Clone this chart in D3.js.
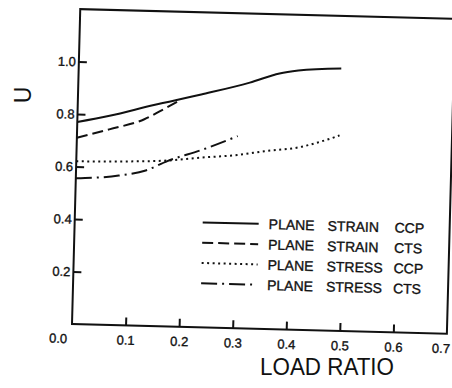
<!DOCTYPE html>
<html>
<head>
<meta charset="utf-8">
<script src="https://cdn.jsdelivr.net/npm/d3@7/dist/d3.min.js"></script>
<style>
  body { margin: 0; background: #fff; }
  svg { display: block; font-family: 'Liberation Sans', Arial, sans-serif; }
</style>
</head>
<body>
<div id="chart"></div>
<script>
// data
const xTickValues = [0.1, 0.2, 0.3, 0.4, 0.5, 0.6];
const xTickLabels = [0.0, 0.1, 0.2, 0.3, 0.4, 0.5, 0.6, 0.7];
const yTickValues = [0.2, 0.4, 0.6, 0.8, 1.0];

const seriesNames = ['PLANE STRAIN CCP', 'PLANE STRAIN CTS', 'PLANE STRESS CCP', 'PLANE STRESS CTS'];

const strainCcpLoad = [0.0, 0.06, 0.14, 0.23, 0.32, 0.375, 0.41, 0.49];
const strainCcpU    = [0.77, 0.797, 0.841, 0.887, 0.937, 0.975, 0.988, 1.0];

const strainCtsLoad = [0.0, 0.06, 0.125, 0.163, 0.19];
const strainCtsU    = [0.71, 0.745, 0.787, 0.83, 0.862];

const stressCcpLoad = [0.0, 0.1, 0.17, 0.23, 0.3, 0.35, 0.42, 0.45, 0.48, 0.49];
const stressCcpU    = [0.62, 0.625, 0.632, 0.646, 0.66, 0.677, 0.698, 0.716, 0.737, 0.745];

const stressCtsLoad = [0.0, 0.08, 0.13, 0.17, 0.235, 0.3];
const stressCtsU    = [0.555, 0.57, 0.592, 0.63, 0.677, 0.732];

const width = 452;
const height = 388;
const plotW = 375;
const plotH = 315;
const ink = '#111';

const svg = d3.select('#chart').append('svg')
  .attr('width', width)
  .attr('height', height);

svg.append('rect')
  .attr('width', width)
  .attr('height', height)
  .attr('fill', '#fff');

// the scan is tilted about 1.5 degrees clockwise around the bottom-left corner
const g = svg.append('g')
  .attr('transform', `translate(72,324) rotate(1.5) translate(0,${-plotH})`);

const x = d3.scaleLinear().domain([0, 0.7]).range([0, plotW]);
const y = d3.scaleLinear().domain([0, 1.2]).range([plotH, 0]);

// frame
g.append('rect')
  .attr('x', 0)
  .attr('y', 0)
  .attr('width', plotW)
  .attr('height', plotH)
  .attr('fill', 'none')
  .attr('stroke', ink)
  .attr('stroke-width', 2);

// x axis, ticks point inward
const xAxis = g.append('g')
  .attr('transform', `translate(0,${plotH})`)
  .call(d3.axisBottom(x)
    .tickValues(xTickLabels)
    .tickSizeInner(-8)
    .tickSizeOuter(0)
    .tickPadding(10)
    .tickFormat(d3.format('.1f')))
  .call((gr) => gr.select('.domain').remove());
xAxis.selectAll('.tick line')
  .attr('stroke', ink)
  .attr('stroke-width', 2)
  .filter((d) => !xTickValues.includes(d))
  .remove();
xAxis.selectAll('.tick text')
  .attr('fill', ink)
  .attr('stroke', ink)
  .attr('stroke-width', 0.35)
  .attr('font-size', 13)
  .attr('font-family', "'Liberation Sans', Arial, sans-serif")
  .attr('dx', (d) => d === 0 ? -14 : (d === 0.7 ? -6 : 0));

// y axis
const yAxis = g.append('g')
  .call(d3.axisLeft(y)
    .tickValues(yTickValues)
    .tickSizeInner(-8)
    .tickSizeOuter(0)
    .tickPadding(3)
    .tickFormat(d3.format('.1f')))
  .call((gr) => gr.select('.domain').remove());
yAxis.selectAll('.tick line')
  .attr('stroke', ink)
  .attr('stroke-width', 2);
yAxis.selectAll('.tick text')
  .attr('fill', ink)
  .attr('stroke', ink)
  .attr('stroke-width', 0.35)
  .attr('font-size', 13)
  .attr('font-family', "'Liberation Sans', Arial, sans-serif");

// curves
const dashes = ['none', '11,5', '2,3.5', '16,5,2,5'];
const series = [
  [strainCcpLoad, strainCcpU],
  [strainCtsLoad, strainCtsU],
  [stressCcpLoad, stressCcpU],
  [stressCtsLoad, stressCtsU],
];
const line = d3.line()
  .x((d) => x(d[0]))
  .y((d) => y(d[1]))
  .curve(d3.curveMonotoneX);

series.forEach(([loads, us], i) => {
  g.append('path')
    .datum(loads.map((l, k) => [l, us[k]]))
    .attr('d', line)
    .attr('fill', 'none')
    .attr('stroke', ink)
    .attr('stroke-width', 2)
    .attr('stroke-dasharray', dashes[i]);
});

// legend
const legend = g.append('g').attr('class', 'legend');
const wordX = [194, 253, 320];
seriesNames.forEach((name, i) => {
  const rowY = 210 + i * 20.3;
  legend.append('line')
    .attr('x1', 128)
    .attr('x2', 184)
    .attr('y1', rowY)
    .attr('y2', rowY)
    .attr('stroke', ink)
    .attr('stroke-width', 2)
    .attr('stroke-dasharray', dashes[i]);
  const words = name.split(' ');
  const t = legend.append('text')
    .attr('y', rowY + 5)
    .attr('font-size', 14)
    .attr('fill', ink)
    .attr('stroke', ink)
    .attr('stroke-width', 0.35);
  words.forEach((w, k) => {
    t.append('tspan').attr('x', wordX[k]).text(w);
  });
});

// axis titles
svg.append('text')
  .attr('x', 327)
  .attr('y', 375)
  .attr('text-anchor', 'middle')
  .attr('font-size', 24)
  .attr('textLength', 134)
  .attr('lengthAdjust', 'spacingAndGlyphs')
  .attr('fill', ink)
  .text('LOAD RATIO');

svg.append('text')
  .attr('transform', 'translate(23,95) rotate(-90)')
  .attr('text-anchor', 'middle')
  .attr('dy', '0.35em')
  .attr('font-size', 23)
  .attr('fill', ink)
  .text('U');
</script>
</body>
</html>
